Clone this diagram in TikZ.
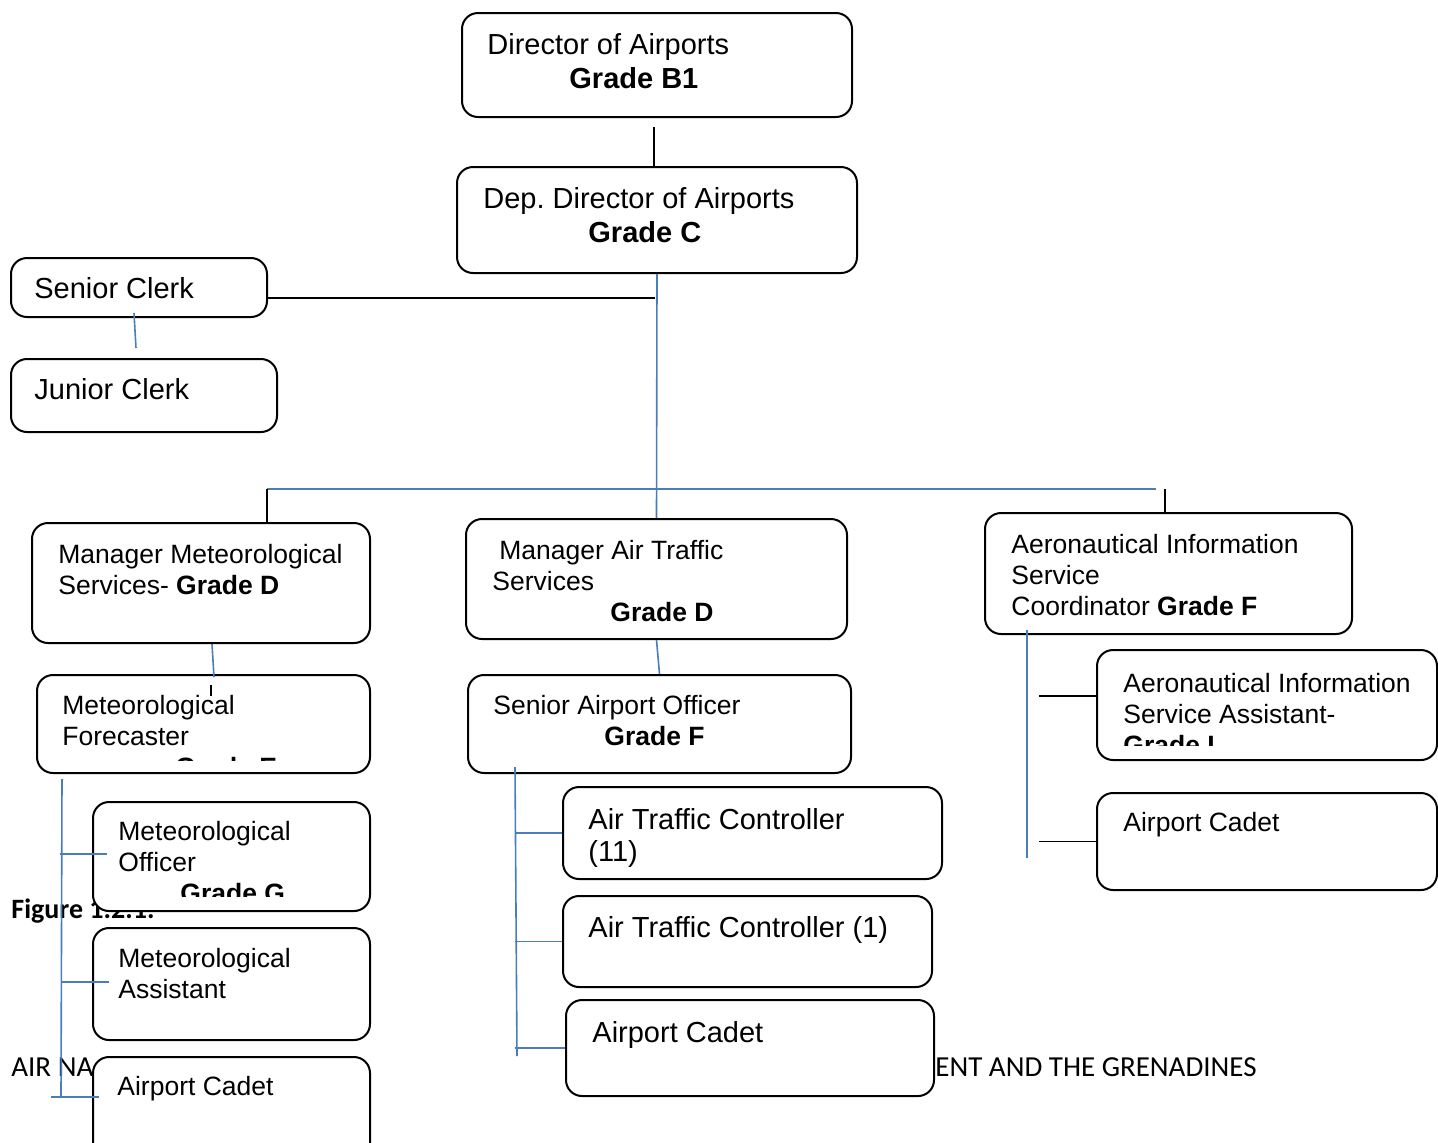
\documentclass[tikz,border=0pt]{standalone}
\usepackage{fontspec}
\setmainfont{Liberation Sans}
\newfontfamily\calibri{Carlito}
\frenchspacing
\definecolor{linkblue}{HTML}{4A7EBB}
\tikzset{
	box/.style={draw, rounded corners=8pt, fill=white, line width=1pt, inner sep=0pt},
	bigtxt/.style={anchor=base west, inner sep=0pt, align=left, font=\fontsize{14.5}{17}\selectfont},
	smalltxt/.style={anchor=base west, inner sep=0pt, align=left, font=\fontsize{13.25}{15.5}\selectfont},
	pagetxt/.style={anchor=base west, inner sep=0pt},
	link/.style={draw=linkblue, line width=0.8pt},
	tie/.style={draw=black, line width=0.9pt},
}
\begin{document}
\begin{tikzpicture}[x=0.5pt,y=-0.5pt]
	\useasboundingbox (0,0) rectangle (1438,1142);
	\clip (0,0) rectangle (1438,1142);
	% page text behind the chart
	\node[pagetxt, font=\calibri\bfseries\fontsize{14}{17}\selectfont] (figtxt) at (11,918) {Figure 1.2.1.};
	\node[pagetxt, font=\calibri\fontsize{14.5}{17}\selectfont] (foot1) at (11,1076) {AIR NA};
	\node[pagetxt, font=\calibri\fontsize{14.5}{17}\selectfont] (foot2) at (935,1076) {ENT AND THE GRENADINES};
	% boxes
	\node[box, minimum width=195pt, minimum height=52pt] (dir) at (657,65) {};
	\node[box, minimum width=200pt, minimum height=53pt] (dep) at (657,220) {};
	\node[box, minimum width=128pt, minimum height=29.5pt] (sclerk) at (139,287.5) {};
	\node[box, minimum width=133pt, minimum height=36.5pt] (jclerk) at (144,395.5) {};
	\node[box, minimum width=169pt, minimum height=60pt] (metmgr) at (201,583) {};
	\node[box, minimum width=190.5pt, minimum height=60pt] (atsmgr) at (656.5,579) {};
	\node[box, minimum width=183.5pt, minimum height=60.5pt] (aismgr) at (1168.5,573.5) {};
	\node[box, minimum width=166.5pt, minimum height=49pt] (fcst) at (203.5,724) {};
	\node[box, minimum width=191.5pt, minimum height=49pt] (sao) at (659.5,724) {};
	\node[box, minimum width=170pt, minimum height=55pt] (aisast) at (1267,705) {};
	\node[box, minimum width=170pt, minimum height=48.5pt] (aiscdt) at (1267,841.5) {};
	\node[box, minimum width=138.5pt, minimum height=54.5pt] (metoff) at (231.5,856.5) {};
	\node[box, minimum width=138.5pt, minimum height=56pt] (metast) at (231.5,984) {};
	\node[box, minimum width=138.5pt, minimum height=56.5pt] (metcdt) at (231.5,1113.5) {};
	\node[box, minimum width=189.5pt, minimum height=46pt] (atc11) at (752.5,833) {};
	\node[box, minimum width=184.5pt, minimum height=45.5pt] (atc1) at (747.5,941.5) {};
	\node[box, minimum width=184pt, minimum height=48pt] (atscdt) at (750,1048) {};
	% texts (placed on the baseline of their last line)
	\node[bigtxt] (dirtxt) at (487,88) {Director of Airports\\\hspace*{41pt}\textbf{Grade B1}};
	\node[bigtxt] (deptxt) at (483,242) {Dep. Director of Airports\\\hspace*{52.5pt}\textbf{Grade C}};
	\node[bigtxt] (sclerktxt) at (34,298) {Senior Clerk};
	\node[bigtxt] (jclerktxt) at (34,399) {Junior Clerk};
	\node[smalltxt] (metmgrtxt) at (58,594) {Manager Meteorological\\Services- \textbf{Grade D}};
	\node[smalltxt] (atsmgrtxt) at (492,621) {\hspace*{3.5pt}Manager Air Traffic\\Services\\\hspace*{59pt}\textbf{Grade D}};
	\node[smalltxt] (aismgrtxt) at (1011,615) {Aeronautical Information\\Service\\Coordinator \textbf{Grade F}};
	\node[smalltxt] (saotxt) at (493,745) {Senior Airport Officer\\\hspace*{55.5pt}\textbf{Grade F}};
	\node[smalltxt] (aiscdttxt) at (1123,831) {Airport Cadet};
	\node[smalltxt] (metasttxt) at (118,998) {Meteorological\\Assistant};
	\node[smalltxt] (metcdttxt) at (117,1095) {Airport Cadet};
	\node[bigtxt, font=\fontsize{14.5}{16}\selectfont] (atc11txt) at (588,861) {Air Traffic Controller\\(11)};
	\node[bigtxt] (atc1txt) at (588,937) {Air Traffic Controller (1)};
	\node[bigtxt] (atscdttxt) at (592,1042) {Airport Cadet};
	\begin{scope}
		\clip (37,675) rectangle (370,760);
		\node[smalltxt] (fcsttxt) at (62,776) {Meteorological\\Forecaster\\\hspace*{56.5pt}\textbf{Grade E}};
	\end{scope}
	\begin{scope}
		\clip (93,802) rectangle (370,896);
		\node[smalltxt] (metofftxt) at (118,902) {Meteorological\\Officer\\\hspace*{31pt}\textbf{Grade G}};
	\end{scope}
	\begin{scope}
		\clip (1097,650) rectangle (1437,745);
		\node[smalltxt] (aisasttxt) at (1123,754) {Aeronautical Information\\Service Assistant-\\\textbf{Grade I}};
	\end{scope}
	% connectors
	\coordinate (hub) at (655,298);
	\coordinate (busL) at (267,489);
	\coordinate (busR) at (1156,489);
	\coordinate (mtop) at (62,779);
	\coordinate (mbot) at (61,1097);
	\coordinate (atop) at (515,767);
	\coordinate (abot) at (517,1056);
	\coordinate (itop) at (1027,630);
	\coordinate (ibot) at (1027,858);
	\draw[tie, shorten <=4.5pt] ([xshift=-1.5pt]dir.south) -- ([xshift=-1.5pt]dep.north);
	\draw[tie] (sclerk.east |- hub) -- (hub);
	\draw[link] ([shift={(-2.5pt,2.5pt)}]sclerk.south) -- ([shift={(-4pt,5pt)}]jclerk.north);
	\draw[link] (dep.south) -- (atsmgr.north);
	\draw[link] (busL) -- (busR);
	\draw[tie] (busL) -- (busL |- metmgr.north);
	\draw[tie] ([xshift=-1.75pt]aismgr.north |- busR) -- ([xshift=-1.75pt]aismgr.north);
	\draw[link] ([xshift=5.5pt]metmgr.south) -- ([shift={(5.25pt,-1.5pt)}]fcst.north);
	\draw[tie] ([shift={(3.75pt,-5.5pt)}]fcst.north) -- ++(0,11);
	\draw[link] (atsmgr.south) -- (sao.north);
	% meteorological branch
	\draw[link] (mtop) -- (mbot);
	\draw[link] (mtop |- metoff.west) ++(-1pt,1.25pt) -- ([shift={(7.5pt,1.25pt)}]metoff.west);
	\draw[link] (mtop |- metast.west) ++(0,1pt) -- ([shift={(8.5pt,1pt)}]metast.west);
	\draw[link] ([xshift=-5pt]mbot) -- ([xshift=3.5pt]mbot -| metcdt.west);
	% air traffic branch
	\draw[link] (atop) -- (abot);
	\foreach \b in {atc11,atc1,atscdt}
		\draw[link] (atop |- \b.west) -- (\b.west);
	% aeronautical information branch
	\draw[link] (itop) -- (ibot);
	\draw[tie] ([shift={(-28.5pt,4.5pt)}]aisast.west) -- ([yshift=4.5pt]aisast.west);
	\draw[tie] ([xshift=-28.5pt]aiscdt.west) -- (aiscdt.west);
\end{tikzpicture}
\end{document}
